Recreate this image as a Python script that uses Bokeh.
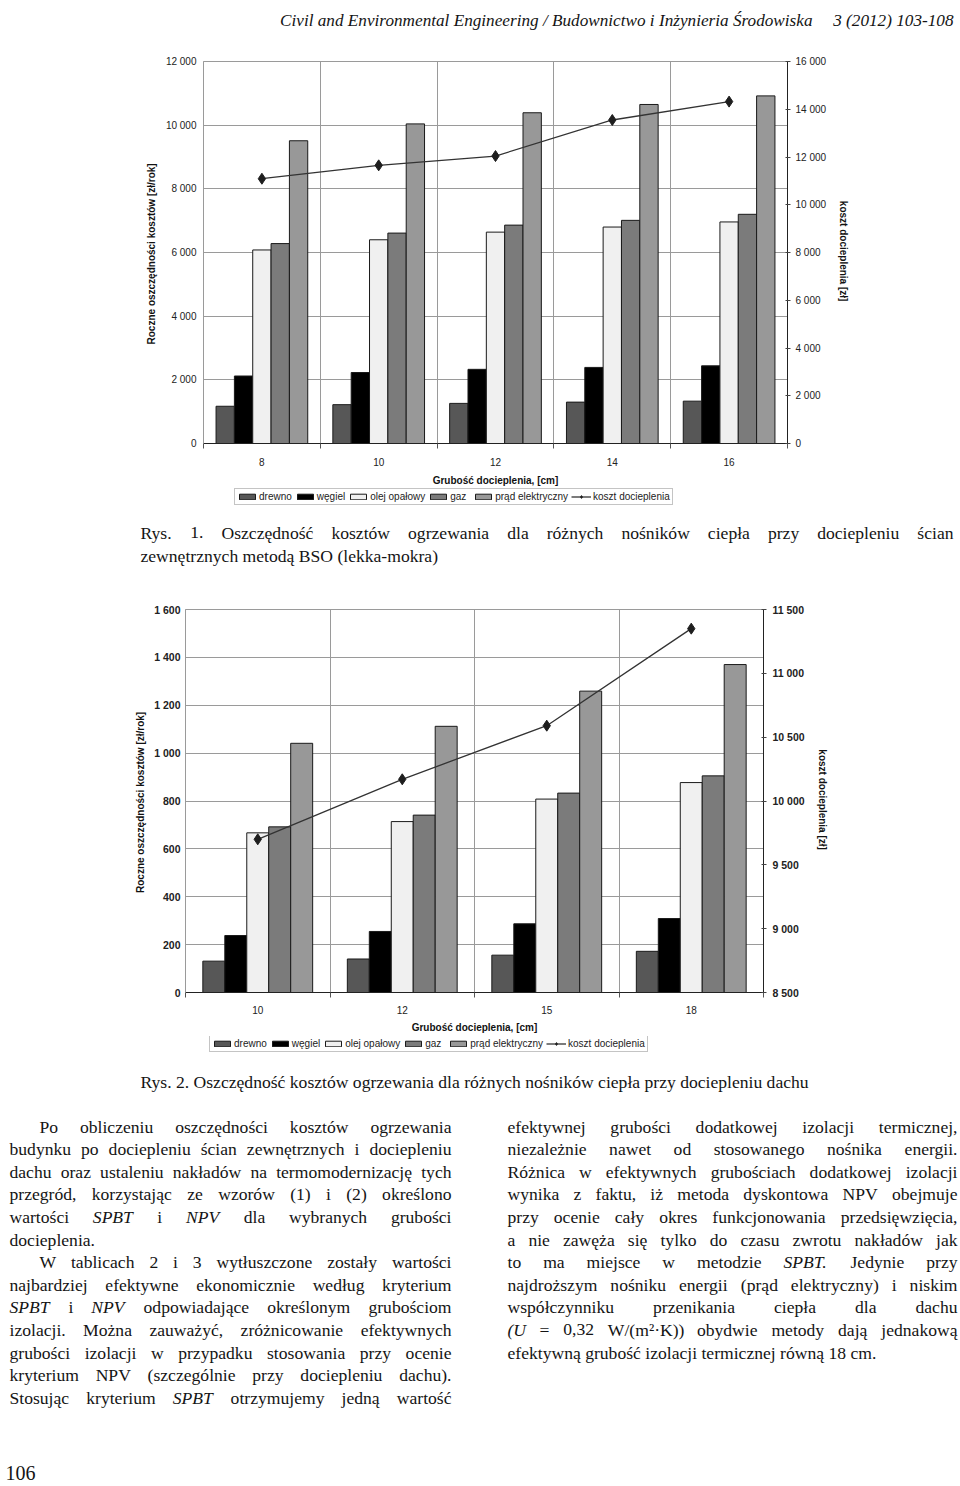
from bokeh.plotting import figure
from bokeh.models import Range1d, LinearAxis, FixedTicker, Legend, LegendItem
from bokeh.layouts import column
from bokeh.embed import file_html
from bokeh.resources import INLINE
from bokeh.core.properties import value

SANS = "Liberation Sans"
SERIF = "Liberation Serif"

# ---------------- data ----------------
series_names = ["drewno", "węgiel", "olej opałowy", "gaz", "prąd elektryczny"]
cost_name = "koszt docieplenia"
series_colors = ["#575757", "#000000", "#f0f0f0", "#7b7b7b", "#989898"]

rys1_thickness = ["8", "10", "12", "14", "16"]
rys1_drewno = [1170, 1220, 1260, 1300, 1330]
rys1_wegiel = [2120, 2230, 2330, 2390, 2440]
rys1_olej = [6080, 6400, 6640, 6800, 6960]
rys1_gaz = [6280, 6610, 6860, 7010, 7200]
rys1_prad = [9510, 10040, 10390, 10650, 10920]
rys1_koszt = [11090, 11650, 12040, 13550, 14320]
rys1_left_ticks = [0, 2000, 4000, 6000, 8000, 10000, 12000]
rys1_left_labels = ["0", "2 000", "4 000", "6 000", "8 000", "10 000", "12 000"]
rys1_right_ticks = [0, 2000, 4000, 6000, 8000, 10000, 12000, 14000, 16000]
rys1_right_labels = ["0", "2 000", "4 000", "6 000", "8 000", "10 000", "12 000", "14 000", "16 000"]

rys2_thickness = ["10", "12", "15", "18"]
rys2_drewno = [131, 140, 156, 172]
rys2_wegiel = [238, 255, 287, 309]
rys2_olej = [667, 714, 808, 877]
rys2_gaz = [692, 741, 833, 905]
rys2_prad = [1041, 1112, 1259, 1370]
rys2_koszt = [9700, 10170, 10590, 11350]
rys2_left_ticks = [0, 200, 400, 600, 800, 1000, 1200, 1400, 1600]
rys2_left_labels = ["0", "200", "400", "600", "800", "1 000", "1 200", "1 400", "1 600"]
rys2_right_ticks = [8500, 9000, 9500, 10000, 10500, 11000, 11500]
rys2_right_labels = ["8 500", "9 000", "9 500", "10 000", "10 500", "11 000", "11 500"]

y_title = "Roczne oszczędności kosztów  [zł/rok]"
y2_title = "koszt docieplenia  [zł]"
x_title = "Grubość docieplenia, [cm]"

header_main = "Civil and Environmental Engineering / Budownictwo i Inżynieria Środowiska"
header_num = "3 (2012) 103-108"
caption1 = ["Rys. 1. Oszczędność kosztów ogrzewania dla różnych nośników ciepła przy dociepleniu ścian",
            "zewnętrznych metodą BSO (lekka-mokra)"]
caption2 = "Rys. 2. Oszczędność kosztów ogrzewania dla różnych nośników ciepła przy dociepleniu dachu"

left_col = [
    ("Po obliczeniu oszczędności kosztów ogrzewania", "j", True),
    ("budynku po dociepleniu ścian zewnętrznych i dociepleniu", "j", False),
    ("dachu oraz ustaleniu nakładów na termomodernizację tych", "j", False),
    ("przegród, korzystając ze wzorów (1) i (2) określono", "j", False),
    ("wartości ~SPBT i ~NPV dla wybranych grubości", "j", False),
    ("docieplenia.", "l", False),
    ("W tablicach 2 i 3 wytłuszczone zostały wartości", "j", True),
    ("najbardziej efektywne ekonomicznie według kryterium", "j", False),
    ("~SPBT i ~NPV odpowiadające określonym grubościom", "j", False),
    ("izolacji. Można zauważyć, zróżnicowanie efektywnych", "j", False),
    ("grubości izolacji w przypadku stosowania przy ocenie", "j", False),
    ("kryterium NPV (szczególnie przy dociepleniu dachu).", "j", False),
    ("Stosując kryterium ~SPBT otrzymujemy jedną wartość", "j", False),
]
right_col = [
    ("efektywnej grubości dodatkowej izolacji termicznej,", "j", False),
    ("niezależnie nawet od stosowanego nośnika energii.", "j", False),
    ("Różnica w efektywnych grubościach dodatkowej izolacji", "j", False),
    ("wynika z faktu, iż metoda dyskontowa NPV obejmuje", "j", False),
    ("przy ocenie cały okres funkcjonowania przedsięwzięcia,", "j", False),
    ("a nie zawęża się tylko do czasu zwrotu nakładów jak", "j", False),
    ("to ma miejsce w metodzie ~SPBT. Jedynie przy", "j", False),
    ("najdroższym nośniku energii (prąd elektryczny) i niskim", "j", False),
    ("współczynniku przenikania ciepła dla dachu", "j", False),
    ("~(U = 0,32 W/(m²·K)) obydwie metody dają jednakową", "j", False),
    ("efektywną grubość izolacji termicznej równą 18 cm.", "l", False),
]
page_number = "106"

# ---------------- text helpers ----------------
CW = {}
for ch, w in zip("abcdefghijklmnopqrstuvwxyz",
                 [.444, .5, .444, .5, .444, .333, .5, .5, .278, .278, .5, .278, .778, .5, .5, .5, .5, .333, .389, .278, .5, .5, .722, .5, .5, .444]):
    CW[ch] = w
for ch, w in zip("ABCDEFGHIJKLMNOPQRSTUVWXYZ",
                 [.722, .667, .667, .722, .611, .556, .722, .722, .333, .389, .722, .611, .889, .722, .722, .556, .722, .667, .556, .611, .722, .722, .944, .722, .722, .611]):
    CW[ch] = w
for a, b in zip("ąćęńóśźżŚŻ", "acenoszzSZ"):
    CW[a] = CW[b]
CW.update({"ł": .278, " ": .25, ".": .25, ",": .25, "(": .333, ")": .333, "-": .333,
           "/": .278, "=": .564, "·": .25, "²": .3, ":": .278})


def tw(s, size, italic=False):
    return size * sum(CW.get(c, 0.5) for c in s) * (0.97 if italic else 1.0)


def layout_line(line, x0, x1, y, size, mode):
    toks = line.split(" ")
    if mode == "l" and not any(t.startswith("~") for t in toks):
        return [(x0, y, line, False, "left")]
    words = [(t[1:], True) if t.startswith("~") else (t, False) for t in toks]
    widths = [tw(w, size, it) for w, it in words]
    if mode == "j" and len(words) > 1:
        gap = (x1 - x0 - sum(widths)) / (len(words) - 1)
    else:
        gap = 0.25 * size
    out = []
    x = x0
    for k, ((w, it), wd) in enumerate(zip(words, widths)):
        if mode == "j" and k == len(words) - 1 and len(words) > 1:
            out.append((x1, y, w, it, "right"))
        else:
            out.append((x, y, w, it, "left"))
        x += wd + gap
    return out


def no_align(f):
    try:
        f.frame_align = False
    except Exception:
        pass


def plain_fig(h, yrev=True):
    f = figure(width=960, height=h, x_range=Range1d(0, 960),
               y_range=Range1d(h, 0) if yrev else Range1d(0, h),
               x_axis_location=None, y_axis_location=None, output_backend="svg",
               toolbar_location=None, min_border=0)
    f.grid.visible = False
    f.outline_line_color = None
    f.background_fill_color = "white"
    f.border_fill_color = "white"
    no_align(f)
    return f


def draw_entries(f, entries, size, color="#141414"):
    groups = {}
    for x, y, t, it, al in entries:
        g = groups.setdefault((it, al), ([], [], []))
        g[0].append(x)
        g[1].append(y)
        g[2].append(t)
    for (it, al), (xs, ys, ts) in groups.items():
        f.text(x=xs, y=ys, text=ts, text_font=value(SERIF), text_font_size=value(f"{size}px"),
               text_font_style=value("italic" if it else "normal"), text_align=value(al),
               text_baseline=value("alphabetic"), text_color=color)


# ---------------- chart helpers ----------------
BAR_LINE = "#1a1a1a"
COST_LINE = "#333333"
COST_MARK = "#1e1e1e"


def build_chart(height, b_left, b_right, b_top, b_bottom, cats, series_vals, cost_vals,
                l_ticks, l_labels, r_ticks, r_labels, bar_w, tick_bold,
                l_std, r_std, r_tick_std, l_tick_std, x_std, xl_std):
    n = len(cats)
    p = figure(width=960, height=height, x_range=Range1d(0, n),
               y_range=Range1d(l_ticks[0], l_ticks[-1]), output_backend="svg",
               toolbar_location=None, min_border_left=b_left, min_border_right=b_right,
               min_border_top=b_top, min_border_bottom=b_bottom)
    no_align(p)
    p.background_fill_color = "white"
    p.border_fill_color = "white"
    p.outline_line_color = "#9a9a9a"
    p.extra_y_ranges = {"cost": Range1d(r_ticks[0], r_ticks[-1])}
    centers = [i + 0.5 for i in range(n)]
    bounds = list(range(n + 1))

    for j, vals in enumerate(series_vals):
        xs = [c + (j - 2) * bar_w for c in centers]
        p.vbar(x=xs, top=vals, bottom=0, width=bar_w, fill_color=series_colors[j],
               line_color=BAR_LINE, line_width=1)
    p.line(centers, cost_vals, y_range_name="cost", line_color=COST_LINE, line_width=1.3)
    p.scatter(centers, cost_vals, y_range_name="cost", marker="diamond", size=11,
              fill_color=COST_MARK, line_color=COST_MARK)

    # grids
    p.xgrid.ticker = FixedTicker(ticks=bounds)
    p.xgrid.grid_line_color = "#9a9a9a"
    p.ygrid.ticker = FixedTicker(ticks=l_ticks)
    p.ygrid.grid_line_color = "#9a9a9a"

    # x axis
    xa = p.xaxis[0]
    xa.ticker = FixedTicker(ticks=centers, minor_ticks=bounds)
    xa.major_label_overrides = {c: lab for c, lab in zip(centers, cats)}
    xa.axis_line_color = "#222222"
    xa.major_tick_in = 0
    xa.major_tick_out = 0
    xa.minor_tick_in = 0
    xa.minor_tick_out = 5
    xa.minor_tick_line_color = "#555555"
    xa.major_label_text_font = SANS
    xa.major_label_text_font_size = "10px"
    xa.major_label_text_color = "#222222"
    xa.major_label_standoff = x_std
    xa.axis_label = x_title
    xa.axis_label_text_font = SANS
    xa.axis_label_text_font_size = "10px"
    xa.axis_label_text_font_style = "bold"
    xa.axis_label_text_color = "#111111"
    xa.axis_label_standoff = xl_std

    # left axis
    ya = p.yaxis[0]
    ya.ticker = FixedTicker(ticks=l_ticks)
    ya.major_label_overrides = {t: lab for t, lab in zip(l_ticks, l_labels)}
    ya.axis_line_color = "#9a9a9a"
    ya.major_tick_in = 0
    ya.major_tick_out = 0
    ya.minor_tick_in = 0
    ya.minor_tick_out = 0
    ya.major_label_text_font = SANS
    ya.major_label_text_font_size = "10.5px" if tick_bold else "10px"
    ya.major_label_text_font_style = "bold" if tick_bold else "normal"
    ya.major_label_text_color = "#222222"
    ya.major_label_standoff = l_tick_std
    ya.axis_label = y_title
    ya.axis_label_text_font = SANS
    ya.axis_label_text_font_size = "10px"
    ya.axis_label_text_font_style = "bold"
    ya.axis_label_text_color = "#111111"
    ya.axis_label_standoff = l_std

    # right axis
    ra = LinearAxis(y_range_name="cost", ticker=FixedTicker(ticks=r_ticks),
                    major_label_overrides={t: lab for t, lab in zip(r_ticks, r_labels)})
    ra.axis_line_color = "#222222"
    ra.major_tick_in = 2
    ra.major_tick_out = 3
    ra.major_tick_line_color = "#444444"
    ra.minor_tick_in = 0
    ra.minor_tick_out = 0
    ra.major_label_text_font = SANS
    ra.major_label_text_font_size = "10.5px" if tick_bold else "10px"
    ra.major_label_text_font_style = "bold" if tick_bold else "normal"
    ra.major_label_text_color = "#222222"
    ra.major_label_standoff = r_tick_std
    ra.axis_label = y2_title
    ra.axis_label_text_font = SANS
    ra.axis_label_text_font_size = "10px"
    ra.axis_label_text_font_style = "bold"
    ra.axis_label_text_color = "#111111"
    ra.axis_label_standoff = r_std
    p.add_layout(ra, "right")
    return p


def legend_strip(h, loc):
    # legend proxies: one far off-canvas point each, only used to style the legend swatches
    f = plain_fig(h, yrev=False)
    off = [-5000]
    items = []
    for j, name in enumerate(series_names):
        r = f.vbar(x=off, top=[-5000], bottom=-5001, width=1, fill_color=series_colors[j],
                   line_color=BAR_LINE, line_width=1)
        items.append(LegendItem(label=name, renderers=[r]))
    ln = f.line(x=off, y=off, line_color=COST_LINE, line_width=1.3)
    sc = f.scatter(x=off, y=off, marker="diamond", size=9, fill_color=COST_MARK, line_color=COST_MARK)
    items.append(LegendItem(label=cost_name, renderers=[ln, sc]))
    leg = Legend(items=items, location=loc, orientation="horizontal",
                 glyph_width=20, glyph_height=7, label_height=10, label_standoff=2,
                 spacing=3, padding=2, margin=0, label_text_font=SANS,
                 label_text_font_size="10px", label_text_color="#222222",
                 border_line_color="#8a8a8a", background_fill_color="white",
                 background_fill_alpha=1.0)
    f.add_layout(leg)
    return f


# ---------------- page pieces ----------------
FS = 17.6

head = plain_fig(40)
draw_entries(head, [(812, 20, header_main, True, "right"), (953, 20, header_num, True, "right")], 17.2)

chart1 = build_chart(448, 203, 173, 21, 44, rys1_thickness,
                     [rys1_drewno, rys1_wegiel, rys1_olej, rys1_gaz, rys1_prad], rys1_koszt,
                     rys1_left_ticks, rys1_left_labels, rys1_right_ticks, rys1_right_labels,
                     0.157, False, 6, 9, 5, 7, 9, 6)
strip1 = legend_strip(24, (234, 7))

cap1 = plain_fig(63)
e = layout_line(caption1[0], 140, 953, 20, FS, "j") + layout_line(caption1[1], 140, 953, 43, FS, "l")
draw_entries(cap1, e, FS)

chart2 = build_chart(461, 185, 197, 34, 44, rys2_thickness,
                     [rys2_drewno, rys2_wegiel, rys2_olej, rys2_gaz, rys2_prad], rys2_koszt,
                     rys2_left_ticks, rys2_left_labels, rys2_right_ticks, rys2_right_labels,
                     0.152, True, 5, 9, 6, 5, 8, 5)
strip2 = legend_strip(24, (209, 8))

cap2 = plain_fig(35)
draw_entries(cap2, layout_line(caption2, 140, 953, 21, FS, "l"), FS)

body = plain_fig(391)
entries = []
for k, (line, mode, indent) in enumerate(left_col):
    entries += layout_line(line, 9 + (30 if indent else 0), 451, 31 + 22.6 * k, FS, mode)
for k, (line, mode, indent) in enumerate(right_col):
    entries += layout_line(line, 507 + (30 if indent else 0), 957, 31 + 22.6 * k, FS, mode)
draw_entries(body, entries, FS)
draw_entries(body, [(5, 377, page_number, False, "left")], 20)

page = column(head, chart1, strip1, cap1, chart2, strip2, cap2, body, spacing=0)

with open("out.html", "w") as fh:
    fh.write(file_html(page, INLINE))
